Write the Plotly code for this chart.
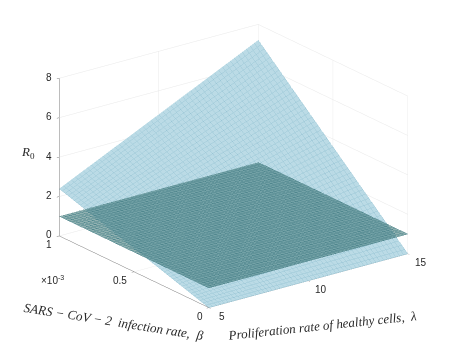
import plotly.graph_objects as go

# values
lam = [5, 15]
beta = [0, 0.001]
r0_upper = [[0, 0], [2.4, 7.2]]
r0_lower = [[1, 1], [1, 1]]

lam_ticks = [5, 10, 15]
beta_ticks = [0, 0.0005, 0.001]
beta_labels = ["0", "0.5", "1"]
r0_ticks = [0, 2, 4, 6, 8]

upper_color = "rgb(170,210,224)"
lower_color = "rgb(70,125,125)"

title_font = dict(family="Liberation Serif", size=13, color="rgb(40,40,40)")
tick_font = dict(family="Liberation Sans", size=10, color="rgb(38,38,38)")


def flat(z, color, alpha, mesh):
    # fine mesh lines stand in for the dense grid of the original surface
    lines = dict(show=True, color=mesh, width=1)
    return go.Surface(
        x=lam, y=beta, z=z,
        colorscale=[[0, color], [1, color]],
        showscale=False, opacity=alpha, hoverinfo="skip",
        lighting=dict(ambient=1, diffuse=0, specular=0, fresnel=0),
        contours=dict(
            x=dict(start=5, end=15, size=0.2, **lines),
            y=dict(start=0, end=0.001, size=0.00002, **lines),
        ),
    )


def axis(tickvals, rng):
    return dict(
        range=rng, tickvals=tickvals, title=dict(text=""),
        showbackground=False, showspikes=False, zeroline=False,
        showgrid=True, gridcolor="rgb(232,232,232)", gridwidth=1,
        showline=True, linecolor="rgb(120,120,120)", linewidth=1,
        ticks="outside", ticklen=3, tickcolor="rgb(120,120,120)",
        showticklabels=False,
    )


def tick(x, y, z, text, dx, dy):
    return dict(x=x, y=y, z=z, text=text, showarrow=False, xshift=dx, yshift=dy, font=tick_font)


# tick labels sit where the original has them, tied to the data position
tick_labels = []
for v in r0_ticks:
    tick_labels.append(tick(5, beta[1], v, str(v), -10, 1))
for v, t in zip(beta_ticks, beta_labels):
    dx = -10 if v == beta[1] else -14 if t == "0.5" else -9
    tick_labels.append(tick(5, v, 0, t, dx, -9))
for v in lam_ticks:
    tick_labels.append(tick(v, 0, 0, str(v), 13, -9))

fig = go.Figure([
    flat(r0_upper, upper_color, 0.8, "rgb(155,198,214)"),
    flat(r0_lower, lower_color, 0.6, "rgb(80,135,142)"),
])

fig.update_layout(
    width=451, height=345,
    margin=dict(l=0, r=0, t=0, b=0),
    paper_bgcolor="white",
    font=dict(family="Liberation Sans"),
    scene=dict(
        domain=dict(x=[0, 1], y=[0.084, 1]),
        xaxis=axis(lam_ticks, [5, 15]),
        yaxis=axis(beta_ticks, [0, 0.001]),
        zaxis=axis(r0_ticks, [0, 8]),
        aspectmode="manual",
        aspectratio=dict(x=1.575, y=1.575, z=1.07),
        camera=dict(
            projection=dict(type="orthographic"),
            eye=dict(x=-1.12, y=-1.49, z=0.72),
            up=dict(x=0, y=0, z=1),
        ),
        annotations=tick_labels,
    ),
)


def label(text, px, py, angle=0, font=title_font):
    # the page body adds 8 px round the figure
    fig.add_annotation(text=text, x=(px - 8) / 451, y=1 - (py - 8) / 345, xref="paper", yref="paper",
                       xanchor="center", yanchor="middle",
                       showarrow=False, textangle=angle, font=font)


label("<i>SARS − CoV − 2  infection rate,  β</i>", 114, 321, 9)
label("<i>Proliferation rate of healthy cells,  λ</i>", 322, 325, -6)
label("<i>R</i><sub>0</sub>", 28, 152)
label("×10<sup>-3</sup>", 52, 280, 0, tick_font)

fig.write_html("out.html")
